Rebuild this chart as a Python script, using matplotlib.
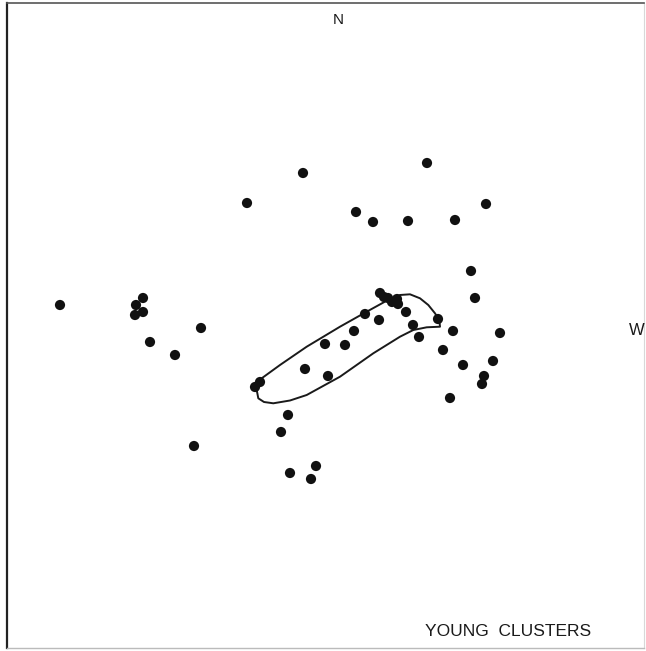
import matplotlib
matplotlib.use("Agg")
import matplotlib.pyplot as plt

# positions of clusters, in picture units (x to the right, y downward)
cluster_x = [247, 303, 427, 356, 373, 408, 455, 486,
             60, 143, 136, 143, 135, 201, 150, 175,
             380, 384, 388, 392, 397, 398, 406, 438, 365, 379, 413, 419,
             354, 325, 345, 305, 328, 260, 255,
             471, 475, 453, 500, 443, 493, 463, 484, 482, 450,
             288, 281, 194, 316, 290, 311]
cluster_y = [203, 173, 163, 212, 222, 221, 220, 204,
             305, 298, 305, 312, 315, 328, 342, 355,
             293, 297, 298, 302, 299, 304, 312, 319, 314, 320, 325, 337,
             331, 344, 345, 369, 376, 382, 387,
             271, 298, 331, 333, 350, 361, 365, 376, 384, 398,
             415, 432, 446, 466, 473, 479]

# outline drawn round the young group
loop_x = [256.7, 258.3, 264.0, 273.3, 290.0, 306.7, 340.0, 373.3, 400.0, 413.3,
          426.7, 440.0, 439.3, 435.0, 428.3, 420.0, 410.0, 400.0, 386.7,
          366.7, 340.0, 306.7, 280.0, 261.7, 255.7, 256.7]
loop_y = [390.0, 398.3, 402.0, 403.3, 400.5, 395.0, 376.7, 353.3, 336.7, 330.0,
          327.3, 326.7, 320.0, 313.3, 305.0, 298.3, 294.3, 295.0, 300.7,
          311.7, 326.7, 346.7, 365.0, 378.3, 386.7, 390.0]

W, H = 646, 651
fig = plt.figure(figsize=(W / 100, H / 100), dpi=100)
fig.patch.set_facecolor("white")
ax = fig.add_axes([7 / W, 3 / H, (644 - 7) / W, (648 - 3) / H])
ax.set_xlim(7, 644)
ax.set_ylim(648, 3)
ax.set_xticks([])
ax.set_yticks([])

ax.spines["left"].set_linewidth(1.6)
ax.spines["left"].set_color("#222222")
ax.spines["top"].set_linewidth(1.2)
ax.spines["top"].set_color("#555555")
ax.spines["right"].set_linewidth(0.8)
ax.spines["right"].set_color("#d8d8d8")
ax.spines["bottom"].set_linewidth(1.0)
ax.spines["bottom"].set_color("#bbbbbb")

ax.plot(loop_x, loop_y, color="#1a1a1a", lw=1.4, solid_joinstyle="round")
ax.scatter(cluster_x, cluster_y, s=54, color="#111111", edgecolors="none", zorder=3)

font = ["Liberation Sans", "DejaVu Sans"]
ax.text(338, 20, "N", ha="center", va="center", fontsize=11, family=font, color="#1a1a1a")
ax.text(637, 331, "W", ha="center", va="center", fontsize=12, family=font, color="#1a1a1a")
ax.text(508, 632, "YOUNG  CLUSTERS", ha="center", va="center", fontsize=12.5,
        family=font, color="#1a1a1a")

fig.savefig("out.png", dpi=100, facecolor="white")
